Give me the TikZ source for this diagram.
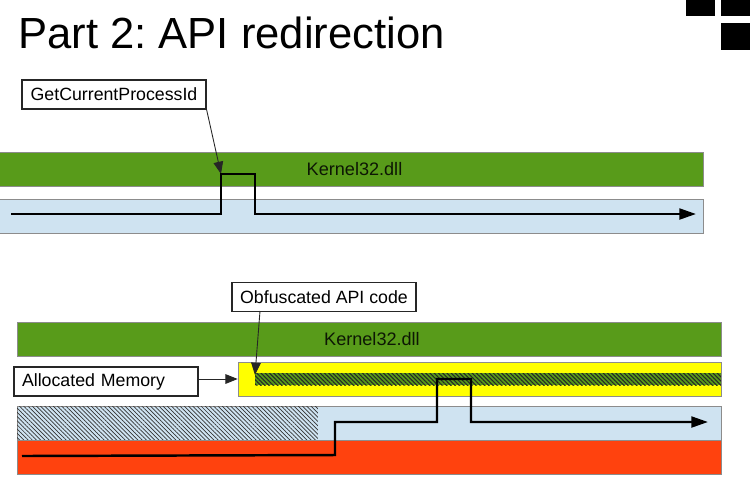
\documentclass[tikz,border=0pt]{standalone}
\usepackage{fontspec}
\setmainfont{Liberation Sans}
\usetikzlibrary{positioning, arrows.meta, patterns.meta}
\definecolor{myGreen}{RGB}{88,155,26}
\definecolor{myBlue}{RGB}{207,227,241}
\definecolor{myYellow}{RGB}{255,255,0}
\definecolor{myRed}{RGB}{255,66,14}
\definecolor{myEdge}{RGB}{140,140,140}
\frenchspacing

\begin{document}
\begin{tikzpicture}[
  x=0.02cm, y=-0.02cm,
  bar/.style={draw=myEdge, line width=0.4pt, inner sep=0pt, minimum height=0.68cm},
  label/.style={draw=black!85, fill=white, line width=0.7pt, font=\fontsize{10.1}{12}\selectfont, inner sep=0pt, minimum width=3.68cm, minimum height=0.58cm},
  dllname/.style={font=\fontsize{10.3}{12}\selectfont, text=black!85!myGreen},
  pointer/.style={-{Triangle[length=7pt, width=5.5pt]}, line width=0.5pt, draw=black!85},
  route/.style={-{Triangle[length=9.5pt, width=6.2pt]}, line width=1.4pt, black},
  corner/.style={fill=black, inner sep=0pt},
]
  \useasboundingbox (0,0) rectangle (750,488);

  \node[font=\fontsize{24.8}{30}\selectfont, anchor=west, inner sep=0pt] (title) at (18,33) {Part 2: API redirection};

  \node[corner, minimum width=0.58cm, minimum height=0.32cm] (sqa) at (700.5,8) {};
  \node[corner, minimum width=0.58cm, minimum height=0.32cm] (sqb) at (735.5,8) {};
  \node[corner, minimum width=0.58cm, minimum height=0.54cm] (sqc) at (735.5,36.5) {};

  % upper part
  \node[bar, fill=myGreen, minimum width=14.12cm, dllname] (kernelA) at (350.5,169) {\hspace*{0.16cm}Kernel32.dll};
  \node[bar, fill=myBlue, minimum width=14.12cm] (procA) at (350.5,216) {};
  \node[label] (getpid) at (114,94.5) {GetCurrentProcessId};
  \coordinate (hookA) at (221,174);
  \draw[pointer] (getpid.south east) -- (hookA);
  \draw[route] (11,214) -- (221,214) -- (hookA) -- (255,174) -- (255,214) -- (696,214);

  % lower part
  \node[bar, fill=myGreen, minimum width=14.08cm, dllname] (kernelB) at (369,339) {\hspace*{0.12cm}Kernel32.dll};
  \node[bar, fill=myYellow, minimum width=9.66cm] (allocB) at (479.5,379) {};
  \node[inner sep=0pt, minimum width=9.32cm, minimum height=0.24cm, preaction={fill=myGreen}, pattern={Lines[angle=-45, distance=1.7pt, line width=0.6pt]}, pattern color=black!85] (obfB) at (488,379) {};
  \node[bar, fill=myBlue, minimum width=14.08cm] (procB) at (369,423) {};
  \node[inner sep=0pt, minimum width=6.02cm, minimum height=0.68cm, pattern={Lines[angle=-45, distance=1.7pt, line width=0.4pt]}, pattern color=black!80] (hatchB) at (167.5,423) {};
  \node[bar, fill=myRed, minimum width=14.08cm] (stackB) at (369,457) {};
  \node[label] (obfcode) at (324,297) {Obfuscated API code};
  \node[label, text width=3.36cm, align=left, inner xsep=0.16cm] (allocmem) at (106,381.5) {Allocated Memory};
  \coordinate (hookB) at (255,375);
  \draw[pointer] (260,311) -- (hookB);
  \draw[pointer] (allocmem.east |- allocB.west) -- (allocB.west);
  \draw[route] (22,456) -- (335,455) -- (335,422) -- (437,422) -- (437,379) -- (471,379) -- (471,422) -- (708,422);
\end{tikzpicture}
\end{document}
